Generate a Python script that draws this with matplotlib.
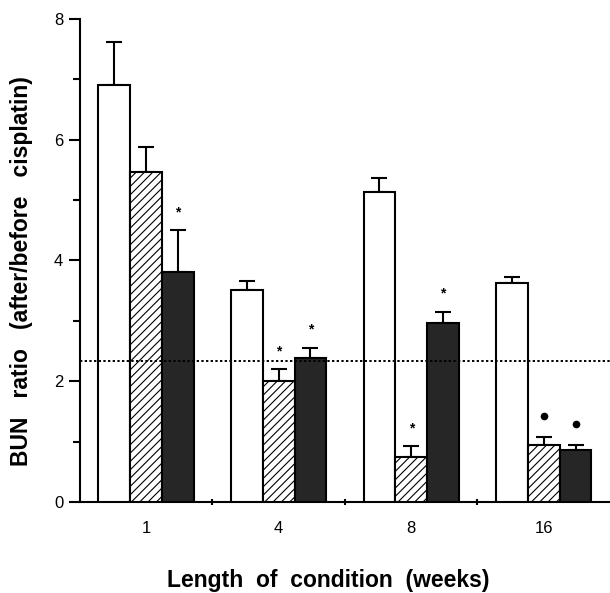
import matplotlib.pyplot as plt
import numpy as np

plt.rcParams['font.family'] = ['Liberation Sans', 'DejaVu Sans']
plt.rcParams['hatch.linewidth'] = 0.8

# data
weeks = ['1', '4', '8', '16']
control = [6.90, 3.51, 5.13, 3.63]
control_err = [0.72, 0.15, 0.23, 0.09]
hatched = [5.46, 2.01, 0.75, 0.95]
hatched_err = [0.42, 0.19, 0.17, 0.13]
dark = [3.81, 2.39, 2.97, 0.86]
dark_err = [0.69, 0.16, 0.18, 0.08]
baseline = 2.33
# significance marks: (group, series, symbol)
marks = [(0, 2, '*'), (1, 1, '*'), (1, 2, '*'), (2, 1, '*'), (2, 2, '*'),
         (3, 1, 'dot'), (3, 2, 'dot')]

fig = plt.figure(figsize=(6.10, 5.93), dpi=100)
ax = fig.add_axes([0.131, 0.1535, 0.869, 0.8145])

x = np.arange(len(weeks))
w = 0.24
series = [(control, control_err, 'white', ''),
          (hatched, hatched_err, 'white', '////'),
          (dark, dark_err, '#262626', '')]
tops = []
for i, (vals, errs, fc, hatch) in enumerate(series):
    pos = x + (i - 1) * w
    ax.bar(pos, vals, width=w, color=fc, edgecolor='black', linewidth=1.5,
           hatch=hatch, zorder=3)
    ax.errorbar(pos, vals, yerr=[np.zeros(len(vals)), errs], fmt='none',
                ecolor='black', elinewidth=1.5, capsize=6, capthick=1.5, zorder=2)
    tops.append(np.array(vals) + np.array(errs))

for g, s, sym in marks:
    px = x[g] + (s - 1) * w
    py = tops[s][g] + 0.3
    if sym == '*':
        ax.text(px, py, '*', ha='center', va='center', fontsize=10, fontweight='bold')
    else:
        ax.plot(px, py + 0.05, 'o', color='black', markersize=4.5)

ax.axhline(baseline, color='black', linestyle=(0, (1.2, 1.2)), linewidth=1.4, zorder=4)

ax.set_xlim(-0.5, 3.5)
ax.set_ylim(0, 8)
ax.set_yticks([0, 2, 4, 6, 8])
ax.set_yticks([1, 3, 5, 7], minor=True)
ax.set_xticks(x)
ax.set_xticklabels(weeks, fontsize=12)
ax.set_xticks([0.5, 1.5, 2.5], minor=True)
ax.tick_params(axis='x', which='major', length=0, pad=14)
ax.tick_params(axis='x', which='minor', length=4, width=1.5, direction='inout')
ax.tick_params(axis='y', which='major', length=8, width=1.5, labelsize=12, pad=4)
ax.tick_params(axis='y', which='minor', length=5, width=1.5)

for sp in ['top', 'right']:
    ax.spines[sp].set_visible(False)
for sp in ['left', 'bottom']:
    ax.spines[sp].set_linewidth(1.5)

# axis titles
fig.text(22 / 610, 1 - 271 / 593, 'BUN   ratio   (after/before   cisplatin)', rotation=90,
         ha='center', va='center', fontsize=16.5, fontweight='bold')
fig.text(328 / 610, 1 - 580 / 593, 'Length  of  condition  (weeks)',
         ha='center', va='center', fontsize=16.5, fontweight='bold')

fig.savefig('out.png', dpi=100)
